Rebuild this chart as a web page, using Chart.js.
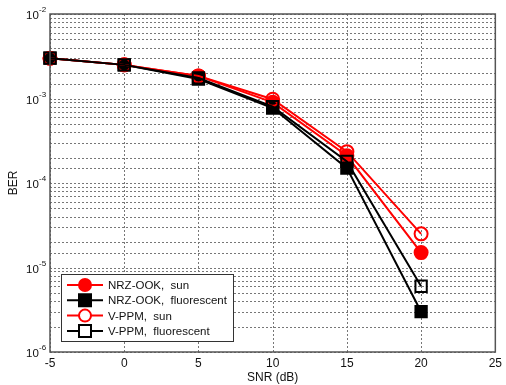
<!DOCTYPE html>
<html>
<head>
<meta charset="utf-8">
<script src="https://cdn.jsdelivr.net/npm/chart.js@4.4.1/dist/chart.umd.min.js"></script>
<style>
  html, body { margin: 0; padding: 0; background: #fff; }
  #wrap { width: 506px; height: 385px; }
</style>
</head>
<body>
<div id="wrap"><canvas id="grafica" width="506" height="385"></canvas></div>
<script>
// valores
const snr = [-5, 0, 5, 10, 15, 20];
const nrzSun = [3.0e-3, 2.5e-3, 1.85e-3, 9.0e-4, 2.1e-4, 1.5e-5];
const nrzFluor = [3.0e-3, 2.5e-3, 1.7e-3, 7.7e-4, 1.5e-4, 3.0e-6];
const ppmSun = [3.0e-3, 2.5e-3, 1.85e-3, 9.8e-4, 2.35e-4, 2.5e-5];
const ppmFluor = [3.0e-3, 2.5e-3, 1.75e-3, 8.0e-4, 1.8e-4, 6.0e-6];
const xTicks = [-5, 0, 5, 10, 15, 20, 25];
const yDecades = [-2, -3, -4, -5, -6];
const etiquetas = ['NRZ-OOK,  sun', 'NRZ-OOK,  fluorescent', 'V-PPM,  sun', 'V-PPM,  fluorescent'];

const FONT = 'Liberation Sans, Arial, sans-serif';

function puntos(vals) {
  return snr.map((x, i) => ({ x: x, y: vals[i] }));
}

const estilos = [
  { color: 'red', relleno: 'red', forma: 'circle', radio: 6.5 },
  { color: 'black', relleno: 'black', forma: 'rect', radio: 8 },
  { color: 'red', relleno: 'rgba(0,0,0,0)', forma: 'circle', radio: 6.5 },
  { color: 'black', relleno: 'rgba(0,0,0,0)', forma: 'rect', radio: 8 }
];
const series = [nrzSun, nrzFluor, ppmSun, ppmFluor];

const datasets = series.map((s, i) => ({
  label: etiquetas[i],
  data: puntos(s),
  borderColor: estilos[i].color,
  backgroundColor: estilos[i].relleno,
  pointBorderColor: estilos[i].color,
  pointBackgroundColor: estilos[i].relleno,
  pointStyle: estilos[i].forma,
  pointRadius: estilos[i].radio,
  pointBorderWidth: 2,
  borderWidth: 2,
  tension: 0,
  fill: false,
  clip: false,
  order: 3 - i
}));

// rejilla punteada
const rejilla = {
  id: 'rejilla',
  beforeDatasetsDraw(chart) {
    const c = chart.ctx;
    const a = chart.chartArea;
    const xs = chart.scales.x, ys = chart.scales.y;
    c.save();
    c.strokeStyle = '#777';
    c.lineWidth = 1;
    c.setLineDash([2, 2]);
    xTicks.forEach(v => {
      const x = Math.round(xs.getPixelForValue(v)) + 0.5;
      c.beginPath();
      c.moveTo(x, a.top);
      c.lineTo(x, a.bottom);
      c.stroke();
    });
    ys.ticks.forEach(t => {
      const y = Math.round(ys.getPixelForValue(t.value)) + 0.5;
      c.beginPath();
      c.moveTo(a.left, y);
      c.lineTo(a.right, y);
      c.stroke();
    });
    c.restore();
  }
};

// marco, etiquetas 10^n y leyenda
const extras = {
  id: 'extras',
  afterDraw(chart) {
    const c = chart.ctx;
    const a = chart.chartArea;
    const ys = chart.scales.y;
    c.save();
    c.strokeStyle = '#555';
    c.lineWidth = 1.5;
    c.setLineDash([]);
    c.strokeRect(a.left, a.top, a.right - a.left, a.bottom - a.top);

    c.fillStyle = '#111';
    c.textBaseline = 'middle';
    yDecades.forEach(d => {
      const y = ys.getPixelForValue(Math.pow(10, d));
      c.font = '11.5px ' + FONT;
      c.textAlign = 'left';
      c.fillText('10', 26, y + 2);
      c.font = '8px ' + FONT;
      c.fillText(String(d), 39, y - 4);
    });

    // leyenda
    const lx = 61, ly = 274, lw = 172, lh = 67;
    c.fillStyle = '#fff';
    c.fillRect(lx, ly, lw, lh);
    c.strokeStyle = '#333';
    c.lineWidth = 1;
    c.strokeRect(lx + 0.5, ly + 0.5, lw, lh);
    etiquetas.forEach((t, i) => {
      const y = ly + 11 + i * 15.3;
      const e = estilos[i];
      c.strokeStyle = e.color;
      c.lineWidth = 2;
      c.beginPath();
      c.moveTo(67, y);
      c.lineTo(103, y);
      c.stroke();
      c.beginPath();
      if (e.forma === 'circle') {
        c.arc(85, y, 6, 0, Math.PI * 2);
      } else {
        c.rect(79, y - 6, 12, 12);
      }
      c.fillStyle = e.relleno === 'rgba(0,0,0,0)' ? '#fff' : e.relleno;
      c.fill();
      c.stroke();
      c.fillStyle = '#111';
      c.font = '11.5px ' + FONT;
      c.textAlign = 'left';
      c.textBaseline = 'middle';
      c.fillText(t, 108, y + 1);
    });
    c.restore();
  }
};

const ctx = document.getElementById('grafica').getContext('2d');
const chart = new Chart(ctx, {
  type: 'line',
  data: { datasets: datasets },
  plugins: [rejilla, extras],
  options: {
    responsive: false,
    animation: false,
    layout: { padding: { top: 14, right: 6, left: 6, bottom: 0 } },
    plugins: { legend: { display: false }, tooltip: { enabled: false } },
    scales: {
      x: {
        type: 'linear',
        min: -5,
        max: 25,
        afterBuildTicks: s => { s.ticks = xTicks.map(v => ({ value: v })); },
        afterFit: s => { s.height = 33; },
        grid: { color: 'rgba(0,0,0,0)', drawTicks: false },
        border: { display: false },
        ticks: { color: '#111', font: { family: FONT, size: 12 }, padding: 4 },
        title: { display: true, text: 'SNR (dB)', color: '#111', font: { family: FONT, size: 12 }, padding: { top: 0, bottom: 0 } }
      },
      y: {
        type: 'logarithmic',
        min: 1e-6,
        max: 1e-2,
        afterFit: s => { s.width = 44; },
        grid: { color: 'rgba(0,0,0,0)', drawTicks: false },
        border: { display: false },
        ticks: { display: false, autoSkip: false },
        title: { display: true, text: 'BER', color: '#111', font: { family: FONT, size: 12 }, padding: { top: 0, bottom: 0 } }
      }
    }
  }
});
</script>
</body>
</html>
